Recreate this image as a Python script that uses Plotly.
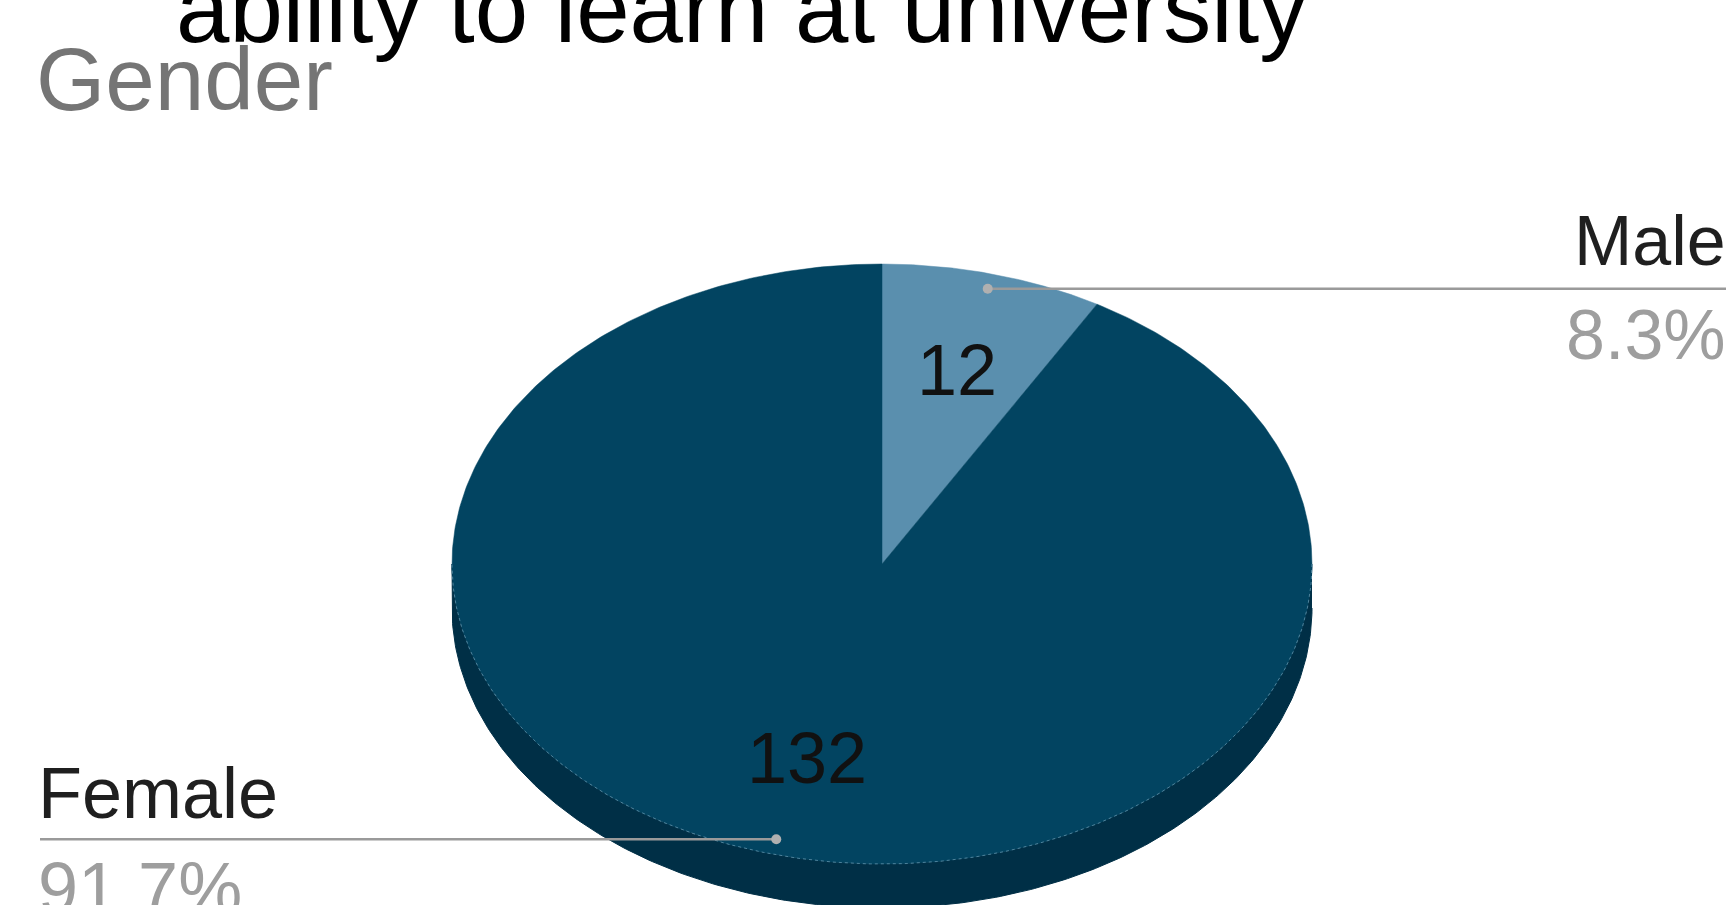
import numpy as np
import plotly.graph_objects as go

# ---- data ----
labels = ["Male", "Female"]
values = [12, 132]
top_colors = ["#5a8fae", "#024461"]
side_colors = ["#2f5f78", "#002f46"]
title_line = "ability to learn at university"
subtitle = "Gender"

# ---- layout constants (pixels) ----
W, H = 1733, 905
cx, cy = 882, 564
rx, ry = 430, 300
depth = 44

total = sum(values)
fracs = [v / total for v in values]
pcts = [f"{100*f:.1f}%" for f in fracs]

def pt(theta_deg, k=1.0, dy=0.0):
    t = np.radians(theta_deg)
    return cx + k * rx * np.sin(t), cy - k * ry * np.cos(t) + dy

fig = go.Figure()

# slice angle ranges (clockwise from 12 o'clock)
starts, ends = [], []
a = 0.0
for f in fracs:
    starts.append(a)
    a += 360 * f
    ends.append(a)

# side walls (visible front half: 90..270 deg)
for i in range(len(values)):
    lo, hi = max(starts[i], 90), min(ends[i], 270)
    if hi <= lo:
        continue
    th = np.linspace(lo, hi, 300)
    xt, yt = pt(th)
    xb, yb = pt(th[::-1], dy=depth)
    fig.add_trace(go.Scatter(x=np.r_[xt, xb], y=np.r_[yt, yb], fill="toself",
                             fillcolor=side_colors[i], line=dict(width=1, color=side_colors[i]),
                             mode="lines", hoverinfo="skip", showlegend=False))

# top faces
for i in range(len(values)):
    th = np.linspace(starts[i], ends[i], 500)
    xs, ys = pt(th)
    fig.add_trace(go.Scatter(x=np.r_[cx, xs, cx], y=np.r_[cy, ys, cy], fill="toself",
                             fillcolor=top_colors[i], line=dict(width=0.5, color=top_colors[i]),
                             mode="lines", hoverinfo="skip", showlegend=False))

# subtle highlight on front rim
th = np.linspace(90, 270, 300)
xr, yr = pt(th)
fig.add_trace(go.Scatter(x=xr, y=yr, mode="lines",
                         line=dict(color="rgba(140,185,210,0.55)", width=1, dash="dot"),
                         hoverinfo="skip", showlegend=False))

# leader lines + dots
mids = [(s + e) / 2 for s, e in zip(starts, ends)]
line_ends_x = [1726, 40]
for i in range(len(values)):
    dx, dyy = pt(mids[i], k=0.95)
    fig.add_trace(go.Scatter(x=[dx, line_ends_x[i]], y=[dyy, dyy], mode="lines",
                             line=dict(color="#9a9a9a", width=2.5),
                             hoverinfo="skip", showlegend=False))
    fig.add_trace(go.Scatter(x=[dx], y=[dyy], mode="markers",
                             marker=dict(color="#b0b0b0", size=10),
                             hoverinfo="skip", showlegend=False))

font_f = "Liberation Sans, Arial"

# value labels inside slices
for i in range(len(values)):
    lx, ly = pt(mids[i], k=0.67)
    fig.add_annotation(x=lx, y=ly, text=str(values[i]), showarrow=False,
                       font=dict(size=72, color="#111111", family=font_f),
                       xanchor="center", yanchor="middle")

# outside labels
fig.add_annotation(x=1728, y=241, text=labels[0], showarrow=False, xanchor="right", yanchor="middle",
                   font=dict(size=70, color="#1f1f1f", family=font_f))
fig.add_annotation(x=1728, y=335, text=pcts[0], showarrow=False, xanchor="right", yanchor="middle",
                   font=dict(size=70, color="#9e9e9e", family=font_f))
fig.add_annotation(x=36, y=793, text=labels[1], showarrow=False, xanchor="left", yanchor="middle",
                   font=dict(size=72, color="#1f1f1f", family=font_f))
fig.add_annotation(x=36, y=888, text=pcts[1], showarrow=False, xanchor="left", yanchor="middle",
                   font=dict(size=72, color="#9e9e9e", family=font_f))

# titles (paper coords so they may extend past the top edge)
fig.add_annotation(x=174 / W, y=1 - 8 / H, xref="paper", yref="paper", text=title_line,
                   showarrow=False, xanchor="left", yanchor="middle",
                   font=dict(size=96, color="#000000", family=font_f))
fig.add_annotation(x=34 / W, y=1 - 79 / H, xref="paper", yref="paper", text=subtitle,
                   showarrow=False, xanchor="left", yanchor="middle",
                   font=dict(size=89, color="#757575", family=font_f))

fig.update_layout(
    width=W, height=H, margin=dict(l=0, r=0, t=0, b=0),
    paper_bgcolor="white", plot_bgcolor="white",
    xaxis=dict(range=[0, W], visible=False, fixedrange=True),
    yaxis=dict(range=[H, 0], visible=False, fixedrange=True),
    showlegend=False,
)

fig.write_html("out.html", config={"displayModeBar": False})
